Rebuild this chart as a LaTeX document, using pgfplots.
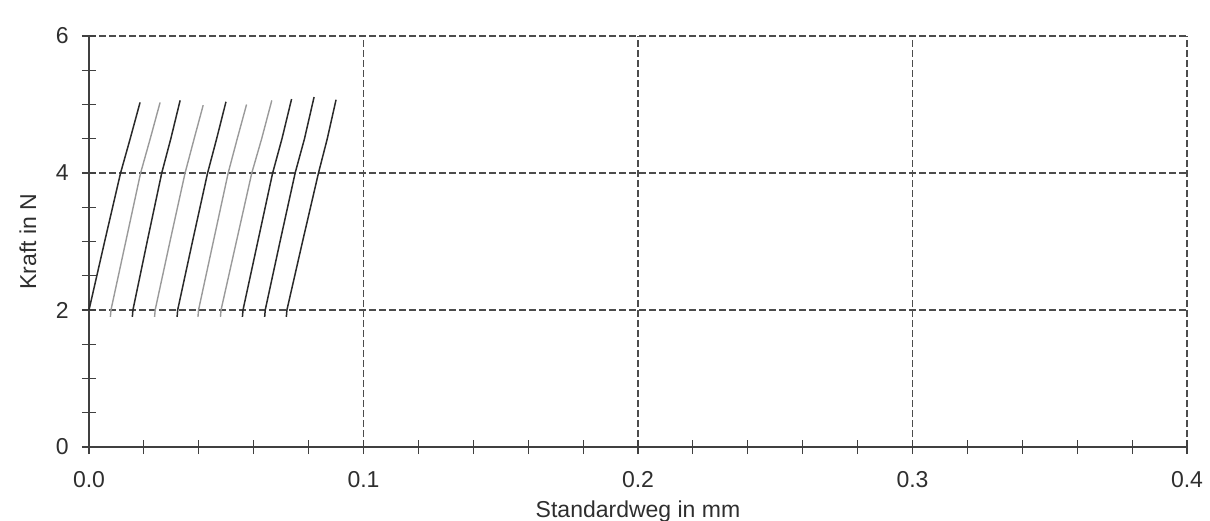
\documentclass[border=0pt]{standalone}
\usepackage{pgfplots}
\pgfplotsset{compat=1.18}
\usepackage{fontspec}
\setmainfont{Liberation Sans}
\definecolor{txt}{HTML}{2E2E2E}
\definecolor{dark}{HTML}{2A2A2A}
\definecolor{light}{HTML}{9A9A9A}
\begin{document}
\begin{tikzpicture}
\begin{axis}[
  scale only axis, width=549pt, height=205.5pt,
  xmin=0, xmax=0.4, ymin=0, ymax=6,
  axis lines=left, axis line style={-, color=black!75, line width=0.65pt},
  xtick={0,0.1,0.2,0.3,0.4}, xticklabels={0.0,0.1,0.2,0.3,0.4},
  ytick={0,2,4,6}, yticklabels={0,2,4,6},
  minor x tick num=4, minor y tick num=3,
  tick align=center, major tick length=7pt, minor tick length=7pt,
  every tick/.style={black!75, line width=0.55pt},
  grid=major,
  major grid style={dash pattern=on 3.5pt off 1.5pt, black!70, line width=0.65pt},
  ticklabel style={font=\fontsize{11.5}{13}\selectfont, text=txt},
  xticklabel style={anchor=base, inner sep=0pt, yshift=-16.5pt},
  yticklabel style={anchor=east, inner sep=0pt, xshift=-6.5pt},
  xlabel={Standardweg in mm}, ylabel={Kraft in N},
  label style={font=\fontsize{11.5}{13}\selectfont, text=txt},
  xlabel style={at={(axis description cs:0.5,0)}, anchor=base, inner sep=0pt, yshift=-35pt},
  ylabel style={at={(axis description cs:-0.0556,0.5)}, anchor=center, inner sep=0pt},
  clip=false,
]
\coordinate (o) at (axis cs:0,0);
\coordinate (e) at (axis cs:0.4,6);
% curve 1
\addplot[dark, line width=0.75pt] coordinates {(0.0000,2.0) (0.0057,3.0) (0.0115,4.0) (0.0150,4.5) (0.0186,5.03)};
% curve 2
\addplot[light, line width=0.7pt] coordinates {(0.0078,1.9) (0.0080,2.0) (0.0134,3.0) (0.0188,4.0) (0.0223,4.5) (0.0259,5.03)};
% curve 3
\addplot[dark, line width=0.75pt] coordinates {(0.0158,1.9) (0.0160,2.0) (0.0212,3.0) (0.0265,4.0) (0.0298,4.5) (0.0332,5.06)};
% curve 4
\addplot[light, line width=0.7pt] coordinates {(0.0239,1.9) (0.0241,2.0) (0.0295,3.0) (0.0350,4.0) (0.0383,4.5) (0.0416,4.99)};
% curve 5
\addplot[dark, line width=0.75pt] coordinates {(0.0321,1.9) (0.0323,2.0) (0.0377,3.0) (0.0432,4.0) (0.0465,4.5) (0.0499,5.04)};
% curve 6
\addplot[light, line width=0.7pt] coordinates {(0.0397,1.9) (0.0399,2.0) (0.0453,3.0) (0.0507,4.0) (0.0540,4.5) (0.0574,5.00)};
% curve 7
\addplot[light, line width=0.7pt] coordinates {(0.0479,1.9) (0.0481,2.0) (0.0537,3.0) (0.0593,4.0) (0.0629,4.5) (0.0666,5.06)};
% curve 8
\addplot[dark, line width=0.75pt] coordinates {(0.0559,1.9) (0.0561,2.0) (0.0615,3.0) (0.0669,4.0) (0.0703,4.5) (0.0738,5.08)};
% curve 9
\addplot[dark, line width=0.75pt] coordinates {(0.0640,1.9) (0.0642,2.0) (0.0696,3.0) (0.0751,4.0) (0.0785,4.5) (0.0820,5.11)};
% curve 10
\addplot[dark, line width=0.75pt] coordinates {(0.0719,1.9) (0.0721,2.0) (0.0778,3.0) (0.0836,4.0) (0.0868,4.5) (0.0900,5.07)};
\end{axis}
\pgfresetboundingbox
\path[use as bounding box] ([shift={(-44.5pt,-36.5pt)}]o) rectangle ([shift={(11.5pt,18pt)}]e);
\end{tikzpicture}
\end{document}
